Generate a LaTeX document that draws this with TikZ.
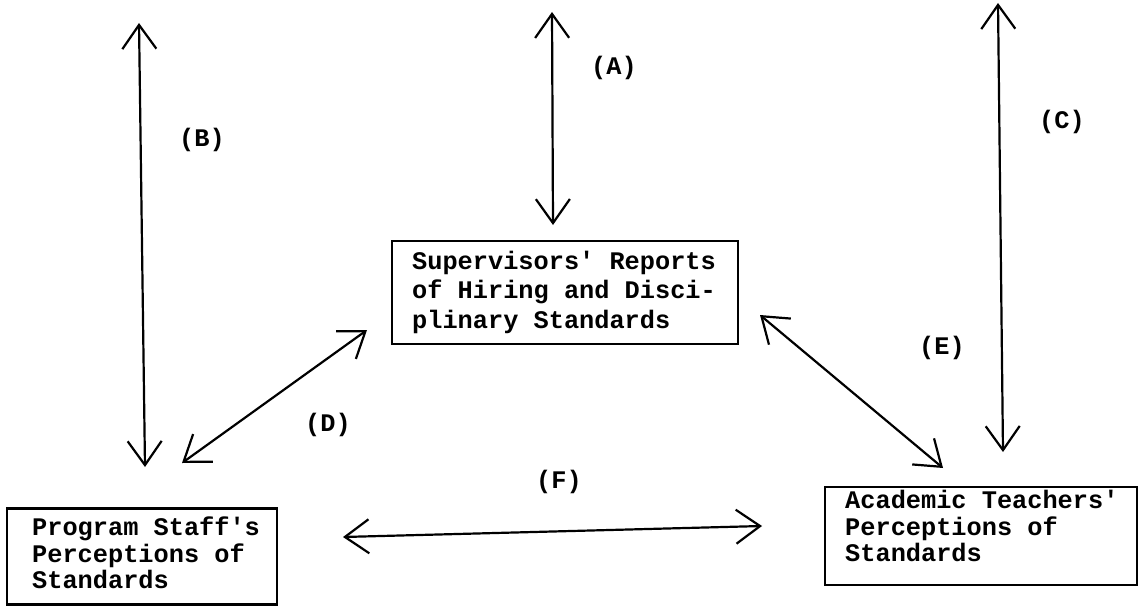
\documentclass[tikz,border=0pt]{standalone}
\usepackage{fontspec}
\setmonofont{Liberation Mono}
\usetikzlibrary{arrows.meta}
\begin{document}
\begin{tikzpicture}[x=1pt,y=-1pt,
  frame/.style={draw, line width=2.2pt, inner sep=0pt},
  txt/.style={font=\ttfamily\bfseries\fontsize{25.3}{26.5}\selectfont, align=left, inner sep=0pt, anchor=west},
  lbl/.style={font=\ttfamily\bfseries\fontsize{25.3}{28}\selectfont, inner sep=0pt},
  link/.style={line width=2.2pt, {Straight Barb[length=24pt,width=34pt]}-{Straight Barb[length=24pt,width=34pt]}}]
\useasboundingbox (0,0) rectangle (1139,607);
% boxes
\node[frame, minimum width=346pt, minimum height=103pt] (sup) at (565,292.5) {};
\node[frame, minimum width=270pt, minimum height=96pt] (prog) at (142,556.5) {};
\node[frame, minimum width=312pt, minimum height=98pt] (acad) at (981,536) {};
% box texts
\node[txt, font=\ttfamily\bfseries\fontsize{25.3}{29.5}\selectfont] (suptxt) at (412,292) {Supervisors' Reports\\of Hiring and Disci-\\plinary Standards};
\node[txt] (progtxt) at (32,553) {Program Staff's\\Perceptions of\\Standards};
\node[txt] (acadtxt) at (845,526) {Academic Teachers'\\Perceptions of\\Standards};
% connector ends
\coordinate (Atop) at (552,12);   \coordinate (Abot) at (553,225);
\coordinate (Btop) at (139,23);   \coordinate (Bbot) at (145,467);
\coordinate (Ctop) at (998,3);    \coordinate (Cbot) at (1003,452);
\coordinate (Dlo) at (182,463);   \coordinate (Dhi) at (367,330);
\coordinate (Ehi) at (760,315);   \coordinate (Elo) at (943,468);
\coordinate (Fl) at (343,537);    \coordinate (Fr) at (762,526);
% connectors
\draw[link] (Atop) -- (Abot);
\draw[link] (Btop) -- (Bbot);
\draw[link] (Ctop) -- (Cbot);
\draw[link] (Dlo) -- (Dhi);
\draw[link] (Ehi) -- (Elo);
\draw[link] (Fl) -- (Fr);
% labels
\node[lbl] (la) at (614,68) {(A)};
\node[lbl] (lb) at (202,140) {(B)};
\node[lbl] (lc) at (1062,122) {(C)};
\node[lbl] (ld) at (328,425) {(D)};
\node[lbl] (le) at (942,348) {(E)};
\node[lbl] (lf) at (559,482) {(F)};
\end{tikzpicture}
\end{document}
